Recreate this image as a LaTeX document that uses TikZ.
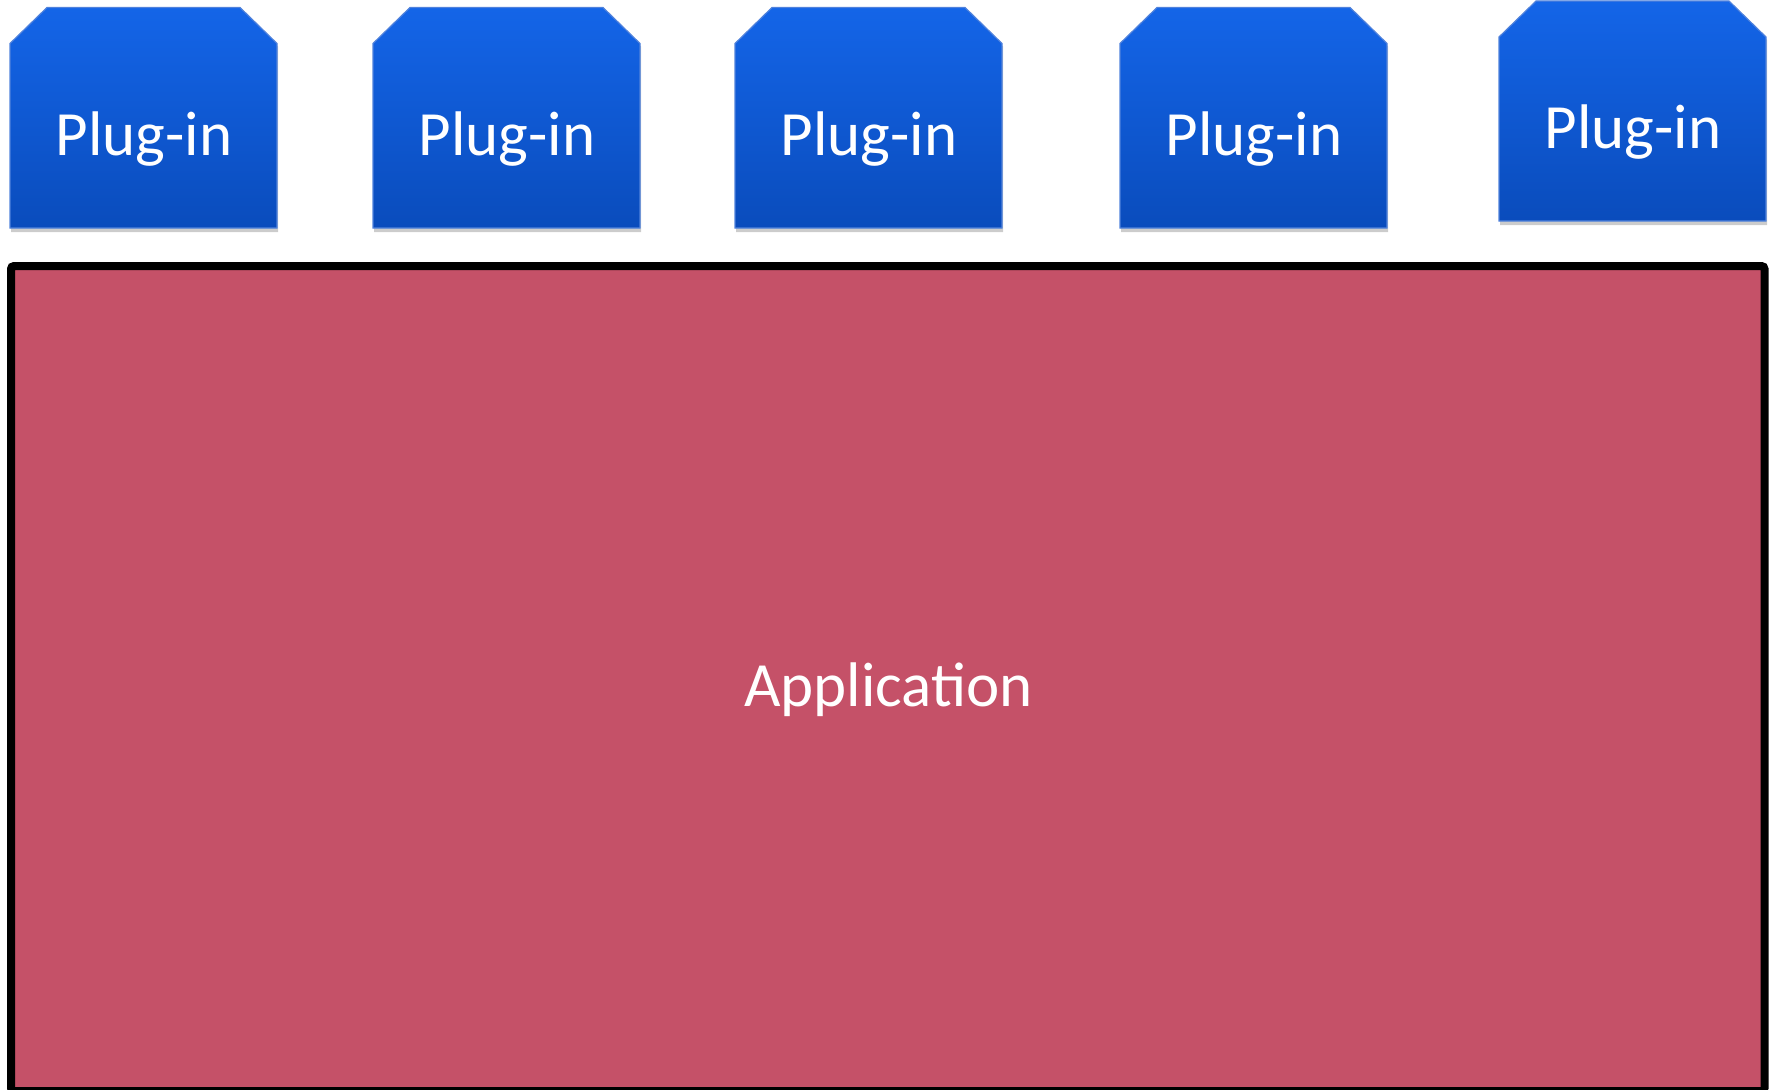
\documentclass[tikz,border=0pt]{standalone}
\usepackage{fontspec}
\setmainfont{Carlito}
\definecolor{plugTop}{RGB}{20,101,232}
\definecolor{plugBot}{RGB}{10,76,188}
\definecolor{plugEdge}{RGB}{80,130,220}
\definecolor{appFill}{RGB}{197,81,104}
\tikzset{
  plugshape/.style={top color=plugTop, bottom color=plugBot, draw=plugEdge, line width=1.2pt},
  plugshadow/.style={fill=black, opacity=0.2},
  plugtext/.style={text=white, font=\fontsize{63}{70}\selectfont, anchor=base, inner sep=0pt},
  appbox/.style={fill=appFill, draw=black, line width=8pt, rounded corners=3pt},
  apptext/.style={text=white, font=\fontsize{63}{70}\selectfont, anchor=base, inner sep=0pt}
}
\begin{document}
\begin{tikzpicture}[x=1pt,y=-1pt]
\useasboundingbox (0,0) rectangle (1771,1089);
\clip (0,0) rectangle (1771,1089);
% application box
\draw[appbox] (11,266) rectangle (1764.5,1091);
\node[apptext] (app) at (888.5,706) {Application};
% plug-ins: left x, top y, bottom y, baseline
\foreach \n/\l/\t/\b/\bl in {1/10/7.5/228/155, 2/373/7.5/228/155, 3/735/7.5/228/155, 4/1120/7.5/228/155, 5/1499/1/221/148} {
  \pgfmathsetmacro{\r}{\l+267}
  \pgfmathsetmacro{\cx}{\l+134}
  \fill[plugshadow] (\l+37+1,\t+3) -- (\r-37+1,\t+3) -- (\r+1,\t+36+3) -- (\r+1,\b+4) -- (\l+1,\b+4) -- (\l+1,\t+36+3) -- cycle;
  \path[plugshape] (\l+37,\t) -- (\r-37,\t) -- (\r,\t+36) -- (\r,\b) -- (\l,\b) -- (\l,\t+36) -- cycle;
  \node[plugtext] (p\n) at (\cx,\bl) {Plug-in};
}
\end{tikzpicture}
\end{document}
